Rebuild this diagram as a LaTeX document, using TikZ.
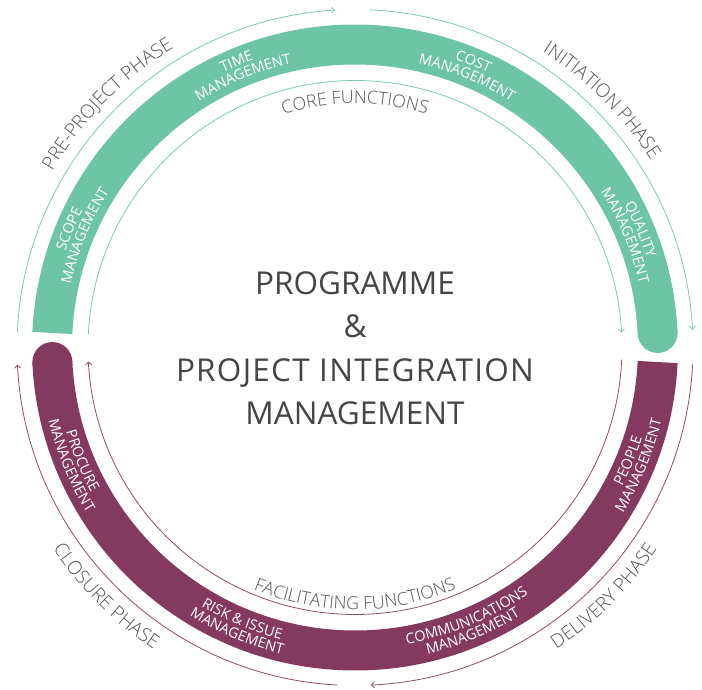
\documentclass[tikz,border=0pt]{standalone}
\usepackage{fontspec}
\IfFontExistsTF{Open Sans Light}{\setmainfont{Open Sans Light}}{\setmainfont{Open Sans}}
\newfontfamily\regfont{Open Sans}
\usetikzlibrary{decorations.text,arrows.meta}
\definecolor{cgreen}{HTML}{6EC5A6}
\definecolor{cpurple}{HTML}{84395E}
\definecolor{lgreen}{HTML}{7CCBAF}
\definecolor{lpurple}{HTML}{8E4D6D}
\definecolor{tgray}{HTML}{555555}
\definecolor{dgray}{HTML}{454545}
\newcommand\phfont{\fontsize{19}{21}\selectfont}
\newcommand\fnfont{\fontsize{17.8}{20}\selectfont}
\newcommand\bdfont{\regfont\fontsize{14.5}{16}\selectfont}
% clockwise text: radius, centre angle, font, colour, text
\newcommand\cwtext[5]{\path[decorate,decoration={text along path,text align=center,text color=#4,text={|#3|#5}}] (#2+60:#1) arc[start angle=#2+60,end angle=#2-60,radius=#1];}
% counter-clockwise text
\newcommand\ccwtext[5]{\path[decorate,decoration={text along path,text align=center,text color=#4,text={|#3|#5}}] (#2-60:#1) arc[start angle=#2-60,end angle=#2+60,radius=#1];}
\tikzset{
  band/.style={line width=40pt},
  thin/.style={line width=0.8pt},
  tip/.style={-{Straight Barb[length=3pt,width=6pt]}},
  ctext/.style={anchor=base,text=dgray,font=\regfont\fontsize{31.5}{36}\selectfont,inner sep=0pt}
}
\begin{document}
\begin{tikzpicture}[x=1pt,y=1pt]
\useasboundingbox (-355,-342.5) rectangle (347,347.5);
% bands
\draw[band,cgreen] (177.25:303pt) arc[start angle=177.25,end angle=2.75,radius=303pt];
\fill[cgreen] (2.75:303pt) circle (20pt);
\draw[band,cpurple] (-2.75:303pt) arc[start angle=-2.75,end angle=-177.25,radius=303pt];
\fill[cpurple] (-177.25:303pt) circle (20pt);
% outer phase arrows
\draw[thin,lgreen,tip] (177.3:338pt) arc[start angle=177.3,end angle=93.4,radius=338pt];
\draw[thin,lgreen,tip] (87.5:338pt) arc[start angle=87.5,end angle=3,radius=338pt];
\draw[thin,lpurple,tip] (-2.9:338pt) arc[start angle=-2.9,end angle=-87.3,radius=338pt];
\draw[thin,lpurple,tip] (-93:338pt) arc[start angle=-93,end angle=-177.1,radius=338pt];
% inner function arrows
\draw[thin,lgreen,tip] (177.2:267pt) arc[start angle=177.2,end angle=3.2,radius=267pt];
\draw[thin,lpurple,tip] (-2.6:267pt) arc[start angle=-2.6,end angle=-177,radius=267pt];
% phase labels
\cwtext{350pt}{135.5}{\phfont}{tgray}{PRE-PROJECT PHASE}
\cwtext{350pt}{45}{\phfont}{tgray}{INITIATION PHASE}
\ccwtext{363pt}{-45}{\phfont}{tgray}{DELIVERY PHASE}
\ccwtext{363pt}{-135}{\phfont}{tgray}{CLOSURE PHASE}
% function labels
\cwtext{244pt}{90}{\fnfont}{tgray}{CORE FUNCTIONS}
\ccwtext{262pt}{-90}{\fnfont}{tgray}{FACILITATING FUNCTIONS}
% band labels, green (clockwise)
\cwtext{305pt}{157.5}{\bdfont}{white}{SCOPE}
\cwtext{291pt}{157.5}{\bdfont}{white}{MANAGEMENT}
\cwtext{305pt}{112.5}{\bdfont}{white}{TIME}
\cwtext{291pt}{112.5}{\bdfont}{white}{MANAGEMENT}
\cwtext{305pt}{67.5}{\bdfont}{white}{COST}
\cwtext{291pt}{67.5}{\bdfont}{white}{MANAGEMENT}
\cwtext{305pt}{22.5}{\bdfont}{white}{QUALITY}
\cwtext{291pt}{22.5}{\bdfont}{white}{MANAGEMENT}
% band labels, purple (counter-clockwise)
\ccwtext{301pt}{-22.5}{\bdfont}{white}{PEOPLE}
\ccwtext{315pt}{-22.5}{\bdfont}{white}{MANAGEMENT}
\ccwtext{301pt}{-67.5}{\bdfont}{white}{COMMUNICATIONS}
\ccwtext{315pt}{-67.5}{\bdfont}{white}{MANAGEMENT}
\ccwtext{301pt}{-112.5}{\bdfont}{white}{RISK {\&} ISSUE}
\ccwtext{315pt}{-112.5}{\bdfont}{white}{MANAGEMENT}
\ccwtext{301pt}{-157.5}{\bdfont}{white}{PROCURE}
\ccwtext{315pt}{-157.5}{\bdfont}{white}{MANAGEMENT}
% centre title
\node[ctext] (t1) at (0,53.1) {PROGRAMME};
\node[ctext] (t2) at (0,10.1) {\&};
\node[ctext] (t3) at (0,-33.9) {\addfontfeatures{LetterSpace=4}PROJECT INTEGRATION};
\node[ctext] (t4) at (0,-76.9) {MANAGEMENT};
\end{tikzpicture}
\end{document}
